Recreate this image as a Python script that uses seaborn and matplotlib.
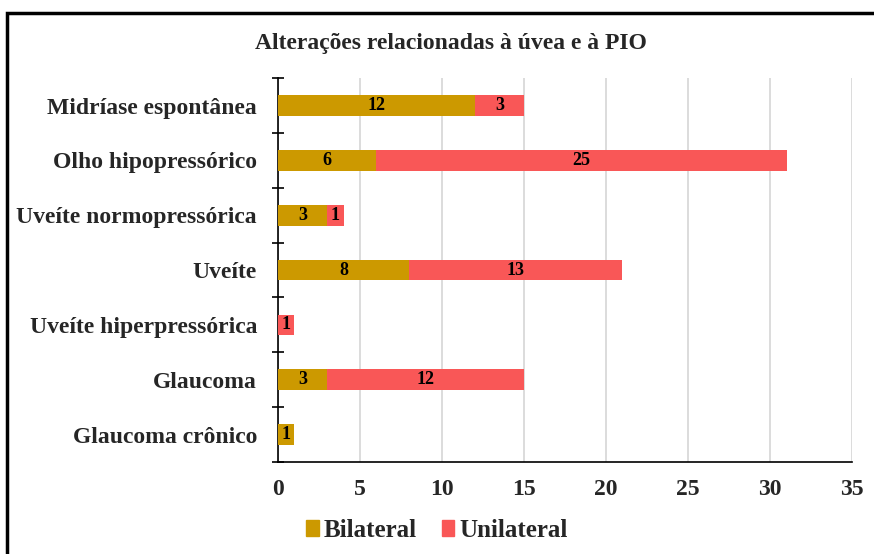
import matplotlib
matplotlib.use("Agg")
import matplotlib.pyplot as plt
import matplotlib.patches as mpatches
import seaborn as sns
import pandas as pd

categorias = ["Midríase espontânea", "Olho hipopressórico", "Uveíte normopressórica",
              "Uveíte", "Uveíte hiperpressórica", "Glaucoma", "Glaucoma crônico"]
bilateral = [12, 6, 3, 8, 0, 3, 1]
unilateral = [3, 25, 1, 13, 1, 12, 0]
ticks_x = [0, 5, 10, 15, 20, 25, 30, 35]

cor_bi = "#CC9900"
cor_uni = "#F95757"

sns.set_style("white")
plt.rcParams["font.family"] = ["Liberation Serif", "DejaVu Serif"]
plt.rcParams["font.weight"] = "bold"

df = pd.DataFrame({"cat": categorias, "bi": bilateral, "uni": unilateral})
df["total"] = df["bi"] + df["uni"]

fig = plt.figure(figsize=(8.74, 5.54), dpi=100)
ax = fig.add_axes([0.318, 0.166, 0.657, 0.693])

# empilhado: total em vermelho, bilateral em dourado por cima
sns.barplot(data=df, x="total", y="cat", color=cor_uni, width=0.38, ax=ax,
            saturation=1, linewidth=0, zorder=3)
sns.barplot(data=df, x="bi", y="cat", color=cor_bi, width=0.38, ax=ax,
            saturation=1, linewidth=0, zorder=4)

for i, row in df.iterrows():
    if row["bi"] > 0:
        ax.text(row["bi"] / 2, i, str(row["bi"]), ha="center", va="center",
                fontsize=13, fontweight="bold", color="black", zorder=5)
    if row["uni"] > 0:
        ax.text(row["bi"] + row["uni"] / 2, i, str(row["uni"]), ha="center",
                va="center", fontsize=13, fontweight="bold", color="black", zorder=5)

ax.set_xlim(0, 35)
ax.set_ylim(len(categorias) - 0.5, -0.5)
ax.set_xticks(ticks_x)
ax.set_xticklabels([str(t) for t in ticks_x], fontsize=17, fontweight="bold")
ax.set_yticks(range(len(categorias)))
ax.set_yticklabels(categorias, fontsize=17, fontweight="bold")
ax.set_xlabel("")
ax.set_ylabel("")

# marcas nos limites das categorias
ax.set_yticks([i - 0.5 for i in range(len(categorias) + 1)], minor=True)
ax.tick_params(axis="y", which="major", left=False, length=0, pad=15)
ax.tick_params(axis="y", which="minor", left=True, length=8, direction="inout",
               width=1.2, color="black")
ax.tick_params(axis="x", length=0, pad=12)

ax.grid(axis="x", color="#D9D9D9", linewidth=1.3, zorder=0)
ax.set_axisbelow(True)
for s in ["top", "right"]:
    ax.spines[s].set_visible(False)
for s in ["left", "bottom"]:
    ax.spines[s].set_color("black")
    ax.spines[s].set_linewidth(1.2)

fig.text(0.516, 0.922, "Alterações relacionadas à úvea e à PIO", ha="center", va="center",
         fontsize=17, fontweight="bold")

handles = [mpatches.Patch(color=cor_bi, label="Bilateral"),
           mpatches.Patch(color=cor_uni, label="Unilateral")]
fig.legend(handles=handles, loc="center", bbox_to_anchor=(0.5, 0.043), ncol=2,
           frameon=False, prop={"size": 18, "weight": "bold"},
           handlelength=0.5, handleheight=0.6, handletextpad=0.2, columnspacing=1.0)

frame = mpatches.Rectangle((0.008, -0.1), 1.2, 1.077, transform=fig.transFigure,
                           fill=False, edgecolor="black", linewidth=2.5)
fig.add_artist(frame)

fig.savefig("out.png", dpi=100)
